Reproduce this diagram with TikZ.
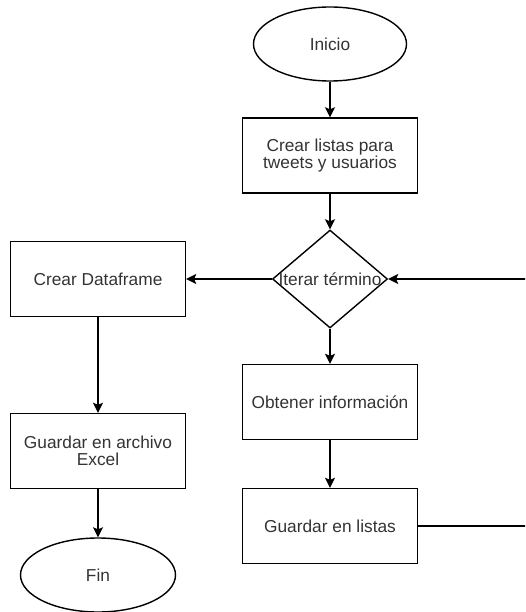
\documentclass[tikz,border=0pt]{standalone}
\usepackage{fontspec}
\setmainfont{Liberation Sans}
\usetikzlibrary{shapes.geometric, arrows.meta}

\begin{document}
\begin{tikzpicture}[x = 1pt, y = -1pt, >={Stealth[length = 10pt, width = 10pt, inset = 2pt]}, line width = 1.4pt, font = \fontsize{17.3}{17.5}\selectfont]
    \tikzstyle{block} = [draw, shape = rectangle, align = center, minimum width = 175pt, minimum height = 75pt, text = black!80]
    \tikzstyle{term} = [draw, shape = ellipse, minimum width = 153pt, minimum height = 74pt, text = black!80]
    \tikzstyle{decision} = [draw, shape = diamond, inner sep = 0pt, minimum width = 115pt, minimum height = 98pt, text = black!80]

    \useasboundingbox (0,0) rectangle (525,612);
    \clip (0,0) rectangle (525,612);

    \node[term] (start) at (330,44) {Inicio};
    \node[block] (list) [below of = start, node distance = 111.5pt] {Crear listas para\\tweets y usuarios};
    \node[decision] (iter) [below of = list, node distance = 123.5pt] {\makebox[0pt]{Iterar término}};
    \node[block] (info) [below of = iter, node distance = 123pt] {Obtener información};
    \node[block] (save) [below of = info, node distance = 124pt] {Guardar en listas};
    \node[block] (frame) at (98,279) {Crear Dataframe};
    \node[block] (excel) [below of = frame, node distance = 172pt] {Guardar en archivo\\Excel};
    \node[term, minimum width = 155pt] (fin) [below of = excel, node distance = 124pt] {Fin};
    \coordinate (back) at (540,0);

    \draw[->] (start) -- (list);
    \draw[->] (list) -- (iter);
    \draw[->] (iter) -- (info);
    \draw[->] (info) -- (save);
    \draw[->] (save.east) -- (save.east -| back) |- (iter.east);
    \draw[->] (iter) -- (frame);
    \draw[->] (frame) -- (excel);
    \draw[->] (excel) -- (fin);
\end{tikzpicture}
\end{document}
